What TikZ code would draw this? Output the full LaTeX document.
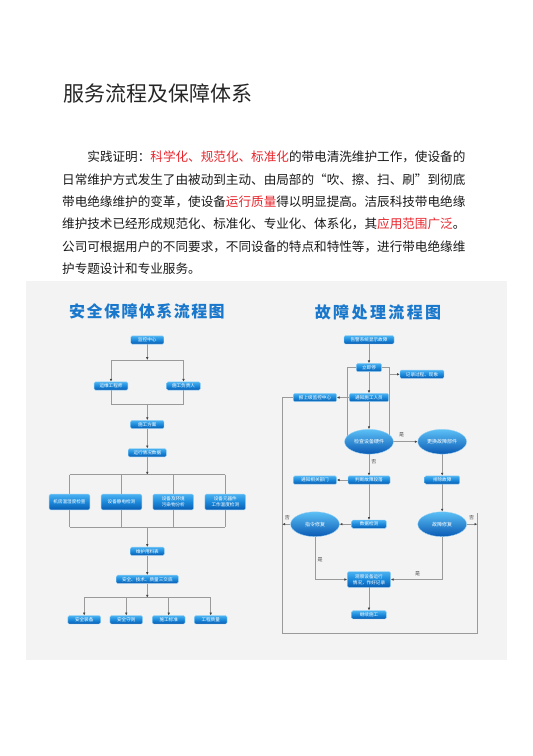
\documentclass[tikz,border=0pt]{standalone}
\usepackage{fontspec}
\setmainfont{Noto Sans CJK SC}
\newfontfamily\cjk{Noto Sans CJK SC}
\usetikzlibrary{arrows.meta,shapes.geometric,backgrounds}
\definecolor{bt}{HTML}{4AB2F2}
\definecolor{bm}{HTML}{1A88DA}
\definecolor{bb}{HTML}{0A5CB0}
\definecolor{bd}{HTML}{9AD2F4}
\definecolor{et}{HTML}{5CC0F6}
\definecolor{eb}{HTML}{0A5AB4}
\definecolor{lc}{HTML}{9A9A9A}
\definecolor{ac}{HTML}{444444}
\definecolor{rd}{HTML}{E8262D}
\definecolor{tb}{HTML}{1A78CC}
\definecolor{panel}{HTML}{F3F3F3}
\begin{document}
\begin{tikzpicture}[x=1pt,y=-1pt,
  fb/.style={rounded corners=1.3pt, draw=bd, line width=0.35pt, top color=bt, bottom color=bb, middle color=bm, text=white, font=\cjk\fontsize{4.6}{5.6}\selectfont, inner sep=0pt, minimum height=8.3pt, align=center},
  fe/.style={ellipse, draw=bd, line width=0.35pt, top color=et, bottom color=eb, text=white, font=\cjk\fontsize{5}{6}\selectfont, inner sep=0pt, minimum width=48.8pt, minimum height=24.8pt},
  ln/.style={draw=lc, line width=0.9pt},
  ar/.style={ln, -{Latex[length=2.8pt,width=2.6pt,color=ac]}},
  lb/.style={font=\cjk\fontsize{5}{6}\selectfont, text=black!70, inner sep=0pt},
  pl/.style={anchor=west, inner sep=0pt, font=\cjk\fontsize{12.6}{12.6}\selectfont, text=black!90},
  ft/.style={font=\cjk\bfseries\fontsize{16}{16}\selectfont, text=tb, inner sep=0pt}
]
\useasboundingbox (0,0) rectangle (533,756);

% page title and text
\node[anchor=west, inner sep=0pt, font=\cjk\fontsize{21}{21}\selectfont, text=black!85] (title) at (63,93) {服务流程及保障体系};
\node[pl] (p1) at (87.2,157) {实践证明：\textcolor{rd}{科学化、规范化、标准化}的带电清洗维护工作，使设备的};
\node[pl] (p2) at (62,179.4) {日常维护方式发生了由被动到主动、由局部的“吹、擦、扫、刷”到彻底};
\node[pl] (p3) at (62,201.8) {带电绝缘维护的变革，使设备\textcolor{rd}{运行质量}得以明显提高。洁辰科技带电绝缘};
\node[pl] (p4) at (62,224.2) {维护技术已经形成规范化、标准化、专业化、体系化，其\textcolor{rd}{应用范围广泛}。};
\node[pl] (p5) at (62,246.6) {公司可根据用户的不同要求，不同设备的特点和特性等，进行带电绝缘维};
\node[pl] (p6) at (62,269) {护专题设计和专业服务。};

% chart titles
\node[ft] (t1) at (147,311.5) {\addfontfeature{LetterSpace=9}安全保障体系流程图};
\node[ft] (t2) at (378,312) {\addfontfeature{LetterSpace=15}故障处理流程图};

% ---------- left chart ----------
\node[fb, minimum width=33pt] (L1) at (147.3,340) {监控中心};
\node[fb, minimum width=33.7pt] (L2a) at (111,386) {运维工程师};
\node[fb, minimum width=33.7pt] (L2b) at (183.5,386) {施工负责人};
\node[fb, minimum width=33.3pt] (L3) at (147.3,424.5) {施工方案};
\node[fb, minimum width=38pt] (L4) at (147.3,452.7) {运行情况数据};
\node[fb, minimum width=40.7pt, minimum height=15.7pt] (L5a) at (69.5,502) {机房温湿度检查};
\node[fb, minimum width=40.7pt, minimum height=15.7pt] (L5b) at (121.5,502) {设备静电检测};
\node[fb, minimum width=40.7pt, minimum height=15.7pt] (L5c) at (173.3,502) {设备及环境\\污染物分析};
\node[fb, minimum width=40.7pt, minimum height=15.7pt] (L5d) at (225.3,502) {设备元器件\\工作温度检测};
\node[fb, minimum width=34pt] (L6) at (147.3,551.3) {维护用料表};
\node[fb, minimum width=62pt] (L7) at (147.3,579.3) {安全、技术、质量三交底};
\node[fb, minimum width=32.7pt] (L8a) at (84.2,619.8) {安全装备};
\node[fb, minimum width=32.7pt] (L8b) at (126.3,619.8) {安全守则};
\node[fb, minimum width=32.7pt] (L8c) at (168.7,619.8) {施工标准};
\node[fb, minimum width=32.7pt] (L8d) at (210.7,619.8) {工程质量};

\coordinate (j1) at (147.3,360);
\coordinate (j1a) at (111,360);
\coordinate (j1b) at (183.5,360);
\coordinate (j2) at (147.3,404.3);
\coordinate (j2a) at (111,404.3);
\coordinate (j2b) at (183.5,404.3);
\coordinate (j3) at (147.3,474.7);
\coordinate (j3a) at (69.5,474.7);
\coordinate (j3b) at (121.5,474.7);
\coordinate (j3c) at (173.3,474.7);
\coordinate (j3d) at (225.3,474.7);
\coordinate (j4) at (147.3,527.3);
\coordinate (j4a) at (69.5,527.3);
\coordinate (j4b) at (121.5,527.3);
\coordinate (j4c) at (173.3,527.3);
\coordinate (j4d) at (225.3,527.3);
\coordinate (j5) at (147.3,597.7);
\coordinate (j5a) at (84.2,597.7);
\coordinate (j5b) at (126.3,597.7);
\coordinate (j5c) at (168.7,597.7);
\coordinate (j5d) at (210.7,597.7);

% ---------- right chart ----------
\node[fb, minimum width=50pt] (R1) at (369,339.8) {告警系统显示故障};
\node[fb, minimum width=25.3pt] (R2) at (369,367.5) {立即停};
\node[fb, minimum width=44pt] (R3) at (422,374.3) {记录过程、现象};
\node[fb, minimum width=39.3pt] (R4) at (369,397.5) {通知施工人员};
\node[fb, minimum width=43.3pt] (R5) at (315,397.5) {报上级监控中心};
\node[fe] (E1) at (369,441.7) {检查设备硬件};
\node[fe] (E2) at (442.2,441.7) {更换故障部件};
\node[fb, minimum width=42pt] (R6) at (369,480) {判断故障段落};
\node[fb, minimum width=43.3pt] (R7) at (315,480) {通知相关部门};
\node[fb, minimum width=35pt] (R8) at (442.2,480) {排除故障};
\node[fb, minimum width=34.7pt] (R9) at (369,524.2) {数据检测};
\node[fe] (E3) at (315,524.2) {指令修复};
\node[fe] (E4) at (442.2,524.2) {故障修复};
\node[fb, minimum width=43.3pt, minimum height=15.6pt] (R10) at (369,579.5) {观察设备运行\\情况，作好记录};
\node[fb, minimum width=34.7pt] (R11) at (369,614.8) {继续施工};

\node[lb] (y1) at (401.7,435) {是};
\node[lb] (n1) at (373.8,461.7) {否};
\node[lb] (n2) at (287.3,517.3) {否};
\node[lb] (n3) at (471.7,517.3) {否};
\node[lb] (y2) at (320,560) {是};
\node[lb] (y3) at (417.7,573.3) {是};

\coordinate (r2e) at (389.3,367.5);
\coordinate (r2w) at (347.3,367.5);
\coordinate (e1r) at (389.3,441.7);
\coordinate (e1l) at (347.3,441.7);
\coordinate (r3j) at (389.3,374.3);
\coordinate (f1) at (282.3,397.5);
\coordinate (f2) at (282.3,633.3);
\coordinate (f3) at (477.3,633.3);
\coordinate (f4) at (477.3,513.3);
\coordinate (f5) at (282.3,524.2);
\coordinate (f6) at (477.3,524.2);
\coordinate (c1) at (315,579.5);
\coordinate (c2) at (442.2,579.5);

\begin{scope}[on background layer]
\fill[white] (0,0) rectangle (533,756);
\fill[panel] (26,281) rectangle (507,660);
% left connectors
\draw[ar] (L1) -- (j1);
\draw[ln] (j1a) -- (j1b);
\draw[ar] (j1a) -- (L2a);
\draw[ar] (j1b) -- (L2b);
\draw[ln] (L2a) -- (j2a) -- (j2b) -- (L2b);
\draw[ar] (j2) -- (L3);
\draw[ar] (L3) -- (L4);
\draw[ar] (L4) -- (j3);
\draw[ln] (j3a) -- (j3d);
\draw[ln] (j4a) -- (j4d);
\foreach \i in {a,b,c,d} {
  \draw[ln] (j3\i) -- (L5\i);
  \draw[ln] (L5\i) -- (j4\i);
}
\draw[ar] (j4) -- (L6);
\draw[ar] (L6) -- (L7);
\draw[ar] (L7) -- (j5);
\draw[ln] (j5a) -- (j5d);
\foreach \i in {a,b,c,d} {
  \draw[ar] (j5\i) -- (L8\i);
}
% right connectors
\draw[ar] (R1) -- (R2);
\draw[ln] (R2.east) -- (r2e) -- (e1r);
\draw[ln] (R2.west) -- (r2w) -- (e1l);
\draw[ar] (r3j) -- (R3);
\draw[ar] (R2) -- (R4);
\draw[ar] (R4) -- (R5);
\draw[ln] (R5) -- (f1) -- (f2) -- (f3) -- (f4);
\draw[ar] (R4) -- (E1);
\draw[ar] (E1) -- (E2);
\draw[ar] (E1) -- (R6);
\draw[ar] (R6) -- (R7);
\draw[ar] (E2) -- (R8);
\draw[ar] (R8) -- (E4);
\draw[ar] (R6) -- (R9);
\draw[ar] (R9) -- (E3);
\draw[ar] (E3) -- (f5);
\draw[ar] (E4) -- (f6);
\draw[ar] (E3) -- (c1) -- (R10);
\draw[ar] (E4) -- (c2) -- (R10);
\draw[ar] (R10) -- (R11);
\end{scope}
\end{tikzpicture}
\end{document}
